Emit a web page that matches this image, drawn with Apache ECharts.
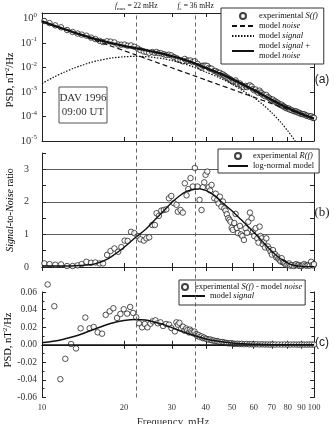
<!DOCTYPE html>
<html><head><meta charset="utf-8">
<script src="https://cdn.jsdelivr.net/npm/echarts@6/dist/echarts.min.js"></script>
<style>html,body{margin:0;padding:0;background:#fff}#c{width:334px;height:424px}</style>
</head><body><div id="c"></div>
<script>
// ---- data ----
const expFreqAB = [10.20,10.66,11.19,11.75,12.36,12.96,13.52,13.99,14.56,15.15,
15.71,16.29,16.77,17.35,17.86,18.46,19.05,19.58,20.13,20.65,
21.25,21.86,22.48,23.00,23.67,24.21,24.78,25.42,26.00,26.37,
26.90,27.45,28.06,28.64,29.28,29.88,30.54,31.24,31.58,32.30,
32.94,33.50,34.00,34.49,35.16,35.85,36.47,37.31,37.95,38.60,
39.03,39.50,39.93,40.51,41.06,41.50,42.02,42.99,43.50,44.09,
44.60,45.07,45.70,46.24,46.80,47.30,47.80,48.40,48.90,49.35,
49.80,50.33,50.90,51.49,52.00,52.51,53.40,53.90,54.51,55.25,
56.05,56.70,57.35,58.13,58.97,59.62,60.30,61.00,61.88,62.50,
63.10,63.60,64.18,64.80,65.45,66.10,66.79,67.70,68.50,69.27,
70.00,70.63,71.85,72.60,73.32,74.00,74.77,75.40,76.05,76.80,
77.55,78.30,79.14,80.00,80.91,81.80,82.77,84.40,85.30,86.10,
87.00,87.90,88.90,90.00,91.00,92.10,93.10,94.10,95.40,96.50,
97.60,98.60,99.50,100.0];
// log10 of experimental PSD S(f), nT^2/Hz
const psdExpLog = [-0.099,-0.183,-0.275,-0.356,-0.463,-0.545,-0.610,-0.653,-0.696,-0.775,
-0.834,-0.908,-0.959,-0.925,-0.940,-0.973,-1.057,-1.064,-1.061,-1.108,
-1.095,-1.152,-1.220,-1.283,-1.341,-1.364,-1.398,-1.363,-1.402,-1.363,
-1.411,-1.419,-1.454,-1.487,-1.474,-1.500,-1.569,-1.615,-1.667,-1.698,
-1.743,-1.647,-1.720,-1.720,-1.711,-1.777,-1.740,-1.846,-1.929,-2.006,
-1.926,-1.928,-1.920,-1.934,-2.013,-2.045,-2.044,-2.138,-2.139,-2.189,
-2.224,-2.212,-2.281,-2.278,-2.330,-2.360,-2.396,-2.438,-2.464,-2.491,
-2.543,-2.573,-2.552,-2.523,-2.618,-2.666,-2.651,-2.721,-2.751,-2.802,
-2.749,-2.797,-2.751,-2.725,-2.779,-2.876,-2.926,-2.896,-2.986,-3.035,
-2.944,-3.018,-3.049,-3.110,-3.107,-3.170,-3.118,-3.204,-3.246,-3.289,
-3.333,-3.307,-3.372,-3.422,-3.432,-3.472,-3.501,-3.534,-3.513,-3.573,
-3.598,-3.626,-3.661,-3.671,-3.679,-3.726,-3.738,-3.784,-3.786,-3.794,
-3.828,-3.842,-3.874,-3.895,-3.902,-3.911,-3.945,-3.968,-3.983,-4.011,
-3.984,-4.041,-4.060,-4.053];
// experimental signal-to-noise ratio R(f)
const snrExp = [0.11,0.09,0.07,0.08,0.03,0.03,0.05,0.09,0.16,0.13,
0.14,0.11,0.11,0.37,0.49,0.57,0.47,0.61,0.81,0.80,
1.08,1.04,0.95,0.85,0.81,0.88,0.91,1.29,1.29,1.65,
1.57,1.73,1.75,1.77,2.11,2.18,1.96,1.91,1.70,1.75,
1.67,2.57,2.20,2.39,2.73,2.47,3.04,2.47,2.06,1.75,
2.45,2.60,2.83,2.93,2.45,2.35,2.52,2.11,2.25,2.06,
1.95,2.16,1.85,2.01,1.80,1.73,1.62,1.50,1.45,1.39,
1.20,1.14,1.35,1.63,1.20,1.04,1.26,1.00,0.95,0.83,
1.19,1.05,1.39,1.67,1.50,1.09,0.95,1.19,0.88,0.75,
1.24,0.95,0.88,0.70,0.78,0.60,0.88,0.63,0.55,0.47,
0.38,0.52,0.40,0.30,0.32,0.25,0.22,0.17,0.27,0.15,
0.13,0.10,0.06,0.08,0.11,0.04,0.06,0.03,0.07,0.09,
0.05,0.06,0.03,0.03,0.06,0.09,0.05,0.04,0.06,0.04,
0.16,0.06,0.05,0.09];
// experimental S(f) - model noise
const expFreqC = [10.49,11.10,11.68,12.18,12.79,13.34,13.87,14.43,14.97,15.49,
16.02,16.63,17.15,17.74,18.30,18.88,19.42,19.97,20.56,21.09,
21.63,22.20,22.75,23.34,23.87,24.42,25.05,25.54,26.13,26.65,
27.26,27.87,28.60,29.30,29.90,30.80,31.20,31.60,32.00,32.50,
33.00,33.40,33.90,34.20,34.70,35.00,35.40,35.70,36.10,36.40,
36.90,37.20,37.70,38.00,38.60,39.00,39.40,39.90,40.40,41.00,
41.60,42.20,42.80,43.40,44.00,44.60,45.30,46.00,46.70,47.40,
48.00,48.80,49.60,50.40,51.20,52.20,53.20,54.20,55.40,56.60,
57.80,59.00,60.20,61.50,63.00,64.50,66.00,67.50,69.00,70.50,
72.00,74.00,76.00,78.00,80.00,82.00,84.00,86.00,88.00,90.00,
92.00,94.00,96.00,98.00,100.0];
const diffExp = [0.0686,0.0438,-0.0392,-0.0160,0.0008,-0.0042,0.0187,0.0309,0.0187,0.0202,
0.0141,0.0126,0.0340,0.0380,0.0415,0.0305,0.0350,0.0404,0.0354,0.0430,
0.0362,0.0312,0.0244,0.0198,0.0236,0.0198,0.0240,0.0267,0.0278,0.0244,
0.0255,0.0213,0.0236,0.0229,0.0190,0.0152,0.0255,0.0228,0.0250,0.0182,
0.0205,0.0160,0.0185,0.0165,0.0140,0.0172,0.0155,0.0140,0.0128,0.0150,
0.0120,0.0100,0.0110,0.0088,0.0095,0.0075,0.0082,0.0070,0.0065,0.0058,
0.0060,0.0050,0.0048,0.0040,0.0042,0.0035,0.0030,0.0032,0.0025,0.0022,
0.0018,0.0015,0.0018,0.0012,0.0010,0.0012,0.0008,0.0010,0.0006,0.0009,
0.0005,0.0007,0.0004,0.0006,0.0003,0.0005,0.0003,0.0004,0.0002,0.0004,
0.0002,0.0003,0.0002,0.0003,0.0002,0.0002,0.0003,0.0002,0.0002,0.0003,
0.0002,0.0002,0.0003,0.0002,0.0002];
// model curves (log10 of PSD)
const modelFreq = [10,11,12,13,14,15,16,18,20,22,24,26,28,30,33,36,40,45,50,55,60,65,70,75,80,85,90,95,100];
const noiseLog  = [-0.11,-0.275,-0.425,-0.563,-0.691,-0.811,-0.922,-1.126,-1.308,-1.473,-1.623,-1.762,-1.890,-2.009,-2.174,-2.324,-2.506,-2.710,-2.892,-3.057,-3.207,-3.345,-3.473,-3.593,-3.704,-3.809,-3.908,-4.001,-4.090];
const signalLog = [-2.65,-2.40,-2.20,-2.04,-1.91,-1.80,-1.72,-1.61,-1.56,-1.54,-1.55,-1.59,-1.64,-1.71,-1.83,-1.97,-2.18,-2.42,-2.68,-2.96,-3.22,-3.52,-3.85,-4.20,-4.58,-4.98,-5.40,-5.80,-6.20];
const totalLog  = [-0.109,-0.272,-0.418,-0.549,-0.666,-0.769,-0.858,-1.003,-1.115,-1.204,-1.284,-1.367,-1.446,-1.533,-1.668,-1.811,-2.012,-2.240,-2.472,-2.705,-2.912,-3.123,-3.321,-3.498,-3.649,-3.781,-3.894,-3.994,-4.088];
// log-normal model of R(f)
const snrModelFreq = [10,12,14,15,16,17,18,20,22,24,26,28,30,32,34,36,38,40,43,46,50,54,58,62,66,70,74,78,82,86,90,95,100];
const snrModel = [0.03,0.03,0.05,0.07,0.12,0.2,0.32,0.6,0.9,1.15,1.45,1.72,1.98,2.18,2.32,2.38,2.4,2.35,2.2,1.98,1.72,1.45,1.2,0.95,0.7,0.48,0.3,0.18,0.08,0.04,0.02,0.01,0.01];
// ticks / markers
const xTicks = [10,20,30,40,50,60,70,80,90,100];
const psdTicks = [1e-5,1e-4,1e-3,1e-2,1e-1,1];
const snrGridLines = [1,2,3];
const markerFreq = [22.2, 36.7];
const markerText = ['{i|f}{sub|max}{t| = 22 mHz}', '{i|f}{sub|e}{t| = 36 mHz}'];

// ---- chart ----
const SERIF = 'Liberation Serif';
const INK = '#111';
const pow10 = v => Math.pow(10, v);
const pairs = (xs, ys, tf) => xs.map((x, i) => [x, tf ? tf(ys[i]) : ys[i]]);
const tok = (size, extra) => Object.assign({fontFamily: SERIF, fontSize: size, color: INK}, extra || {});

const L = {left: 42, right: 20};
const grids = [
  Object.assign({top: 13, height: 128}, L),
  Object.assign({top: 153, height: 114}, L),
  Object.assign({top: 292, height: 105.5}, L),
  Object.assign({top: 13, height: 384.5}, L)
];

function xAx(gi, position, showLabel) {
  return {type: 'log', logBase: 10, gridIndex: gi, position, min: 10, max: 100,
    axisLine: {show: true, lineStyle: {color: '#222', width: 1}},
    axisTick: {show: true, inside: true, length: 4, customValues: xTicks, lineStyle: {color: '#222'}},
    axisLabel: {show: showLabel, customValues: xTicks, margin: 6, fontFamily: SERIF, fontSize: 8.5, color: '#333'},
    splitLine: {show: false}, minorTick: {show: false}, minorSplitLine: {show: false}};
}
const supRich = {b: tok(10.5, {color: '#333'}), s: tok(7, {color: '#333', padding: [0, 0, 7, 0]})};
function yA(gi, position, showLabel) {
  return {type: 'log', logBase: 10, gridIndex: gi, position, min: 1e-5, max: 1.7,
    axisLine: {show: true, lineStyle: {color: '#222', width: 1}},
    axisTick: {show: true, inside: true, length: 4, customValues: psdTicks, lineStyle: {color: '#222'}},
    axisLabel: {show: showLabel, customValues: psdTicks, margin: 5,
      formatter: v => '{b|10}{s|' + Math.round(Math.log10(v)) + '}', rich: supRich},
    splitLine: {show: false}, minorTick: {show: false}};
}
function yB(gi, position, showLabel) {
  return {type: 'value', gridIndex: gi, position, min: 0, max: 3.5, interval: 0.5,
    axisLine: {show: true, lineStyle: {color: '#222', width: 1}},
    axisTick: {show: true, inside: true, length: 4, lineStyle: {color: '#222'}},
    axisLabel: {show: showLabel, margin: 13, fontFamily: SERIF, fontSize: 10, color: '#333',
      formatter: v => (Math.abs(v - Math.round(v)) < 1e-9 && v <= 3) ? String(Math.round(v)) : ''},
    splitLine: {show: false}};
}
function yC(gi, position, showLabel) {
  return {type: 'value', gridIndex: gi, position, min: -0.06, max: 0.06, interval: 0.02,
    axisLine: {show: true, lineStyle: {color: '#222', width: 1}},
    axisTick: {show: true, inside: true, length: 4, lineStyle: {color: '#222'}},
    minorTick: {show: true, splitNumber: 2, length: 2.5, lineStyle: {color: '#222'}},
    axisLabel: {show: showLabel, margin: 5, fontFamily: SERIF, fontSize: 9.5, color: '#333',
      formatter: v => (Math.abs(v) < 1e-9 ? 0 : v).toFixed(2)},
    splitLine: {show: false}};
}

const legendText = {
  expS: '{n|experimental }{i|S(f)}',
  noise: '{n|model }{i|noise}',
  signal: '{n|model }{i|signal}',
  total: '{n|model }{i|signal}{n| +}\n{n|model }{i|noise}',
  expR: '{n|experimental }{i|R(f)}',
  lognormal: '{n|log-normal model}',
  expC: '{n|experimental }{i|S(f)}{n| - model }{i|noise}',
  signalC: '{n|model }{i|signal}'
};
const legRich = {n: tok(8.5, {lineHeight: 10}), i: tok(8.5, {fontStyle: 'italic', lineHeight: 10})};
const lineItem = name => ({name, itemStyle: {opacity: 0, borderWidth: 0}});
function leg(data, extra) {
  return Object.assign({data, orient: 'vertical', itemGap: 0, itemHeight: 6, selectedMode: false,
    formatter: n => legendText[n],
    textStyle: {fontFamily: SERIF, fontSize: 8.5, lineHeight: 10, color: INK, rich: legRich}}, extra);
}

const scatterStyle = {color: '#fff', borderColor: INK, borderWidth: 0.9};

const option = {
  animation: false,
  backgroundColor: '#fff',
  grid: grids,
  xAxis: [xAx(0, 'bottom', false), xAx(0, 'top', false), xAx(1, 'bottom', false), xAx(1, 'top', false),
    xAx(2, 'bottom', true), xAx(2, 'top', false),
    {type: 'log', gridIndex: 3, min: 10, max: 100, show: false}],
  yAxis: [yA(0, 'left', true), yA(0, 'right', false), yB(1, 'left', true), yB(1, 'right', false),
    yC(2, 'left', true), yC(2, 'right', false),
    {type: 'value', gridIndex: 3, min: 0, max: 1, show: false}],
  legend: [
    leg(['expS', lineItem('noise'), lineItem('signal'), lineItem('total')],
      {left: 221, top: 8, padding: [3, 6, 3, 10], itemWidth: 22,
      borderColor: '#333', borderWidth: 1, backgroundColor: '#fff'}),
    leg(['expR', lineItem('lognormal')], {left: 218, top: 149, padding: [2, 5, 2, 9], itemWidth: 20,
      borderColor: '#333', borderWidth: 1, backgroundColor: '#fff'}),
    leg(['expC'], {left: 179, top: 280, padding: [2, 3, 13, 2], itemWidth: 10,
      borderColor: '#333', borderWidth: 1, backgroundColor: '#fff'}),
    leg([lineItem('signalC')], {left: 181, top: 291, padding: 0, itemWidth: 23})
  ],
  series: [
    {name: 'expS', type: 'scatter', xAxisIndex: 0, yAxisIndex: 0, symbol: 'circle', symbolSize: 5.5,
      itemStyle: scatterStyle, data: pairs(expFreqAB, psdExpLog, pow10), z: 2},
    {name: 'noise', type: 'line', xAxisIndex: 0, yAxisIndex: 0, symbol: 'none', smooth: 0.3,
      lineStyle: {color: INK, width: 1.2, type: [5, 3]}, itemStyle: {color: INK},
      data: pairs(modelFreq, noiseLog, pow10), z: 3},
    {name: 'signal', type: 'line', xAxisIndex: 0, yAxisIndex: 0, symbol: 'none', smooth: 0.3,
      lineStyle: {color: INK, width: 1.2, type: [1.5, 1.5]}, itemStyle: {color: INK},
      data: pairs(modelFreq, signalLog, pow10), z: 3},
    {name: 'total', type: 'line', xAxisIndex: 0, yAxisIndex: 0, symbol: 'none', smooth: 0.3,
      lineStyle: {color: INK, width: 2.4}, itemStyle: {color: INK},
      data: pairs(modelFreq, totalLog, pow10), z: 4},

    {name: 'expR', type: 'scatter', xAxisIndex: 2, yAxisIndex: 2, symbol: 'circle', symbolSize: 5.5,
      itemStyle: scatterStyle, data: pairs(expFreqAB, snrExp), z: 3,
      markLine: {symbol: 'none', silent: true, label: {show: false}, z: 1,
        lineStyle: {color: '#333', width: 0.8, type: 'solid'},
        data: snrGridLines.map(v => ({yAxis: v}))}},
    {name: 'lognormal', type: 'line', xAxisIndex: 2, yAxisIndex: 2, symbol: 'none', smooth: 0.3,
      lineStyle: {color: INK, width: 1.4}, itemStyle: {color: INK},
      data: pairs(snrModelFreq, snrModel), z: 4},

    {name: 'expC', type: 'scatter', xAxisIndex: 4, yAxisIndex: 4, symbol: 'circle', symbolSize: 5.5,
      clip: false, itemStyle: scatterStyle, data: pairs(expFreqC, diffExp), z: 3,
      markLine: {symbol: 'none', silent: true, label: {show: false},
        lineStyle: {color: INK, width: 1.6, type: 'solid'}, data: [{yAxis: 0}]}},
    {name: 'signalC', type: 'line', xAxisIndex: 4, yAxisIndex: 4, symbol: 'none', smooth: 0.3,
      lineStyle: {color: INK, width: 1.5}, itemStyle: {color: INK},
      data: pairs(modelFreq, signalLog, pow10), z: 4},

    {name: 'markers', type: 'line', xAxisIndex: 6, yAxisIndex: 6, data: [], silent: true,
      markLine: {symbol: 'none', silent: true,
        lineStyle: {color: '#555', width: 0.9, type: [4, 3]},
        label: {show: true, position: 'end', distance: 2,
          formatter: p => markerText[p.dataIndex],
          rich: {i: tok(7.5, {fontStyle: 'italic'}), sub: tok(5, {padding: [4, 0, 0, 0]}), t: tok(7.5)}},
        data: markerFreq.map(f => ({xAxis: f}))}}
  ],
  graphic: [
    {type: 'text', x: 10, y: 80, rotation: Math.PI / 2,
      style: {text: '{n|PSD, nT}{s|2}{n|/Hz}', align: 'center', verticalAlign: 'middle',
        rich: {n: tok(10.5, {color: '#333'}), s: tok(7, {color: '#333', padding: [0, 0, 6, 0]})}}},
    {type: 'text', x: 10, y: 210, rotation: Math.PI / 2,
      style: {text: '{i|Signal}{n|-to-}{i|Noise}{n| ratio}', align: 'center', verticalAlign: 'middle',
        rich: {n: tok(10, {color: '#333'}), i: tok(10, {color: '#333', fontStyle: 'italic'})}}},
    {type: 'text', x: 8, y: 340, rotation: Math.PI / 2,
      style: {text: '{n|PSD, nT}{s|2}{n|/Hz}', align: 'center', verticalAlign: 'middle',
        rich: {n: tok(10.5, {color: '#333'}), s: tok(7, {color: '#333', padding: [0, 0, 6, 0]})}}},
    {type: 'text', x: 173, y: 417,
      style: {text: 'Frequency, mHz', align: 'center', verticalAlign: 'top',
        fontFamily: SERIF, fontSize: 11, fill: '#333'}},
    {type: 'text', x: 322, y: 80, style: {text: '(a)', align: 'center', verticalAlign: 'middle',
        fontFamily: 'Liberation Sans', fontSize: 12, fill: '#222'}},
    {type: 'text', x: 322, y: 213, style: {text: '(b)', align: 'center', verticalAlign: 'middle',
        fontFamily: SERIF, fontSize: 13, fill: '#222'}},
    {type: 'text', x: 322, y: 343, style: {text: '(c)', align: 'center', verticalAlign: 'middle',
        fontFamily: 'Liberation Sans', fontSize: 12, fill: '#222'}},
    {type: 'rect', shape: {x: 59, y: 87, width: 48, height: 36}, z: 10,
      style: {fill: '#fff', stroke: '#555', lineWidth: 1}},
    {type: 'text', x: 83, y: 98, z: 11, style: {text: 'DAV 1996', align: 'center', verticalAlign: 'middle',
        fontFamily: SERIF, fontSize: 11, fill: '#333'}},
    {type: 'text', x: 83, y: 112, z: 11, style: {text: '09:00 UT', align: 'center', verticalAlign: 'middle',
        fontFamily: SERIF, fontSize: 11, fill: '#333'}}
  ]
};
const chart = echarts.init(document.getElementById('c'), null, {renderer: 'canvas'});
chart.setOption(option);
</script>
</body></html>
